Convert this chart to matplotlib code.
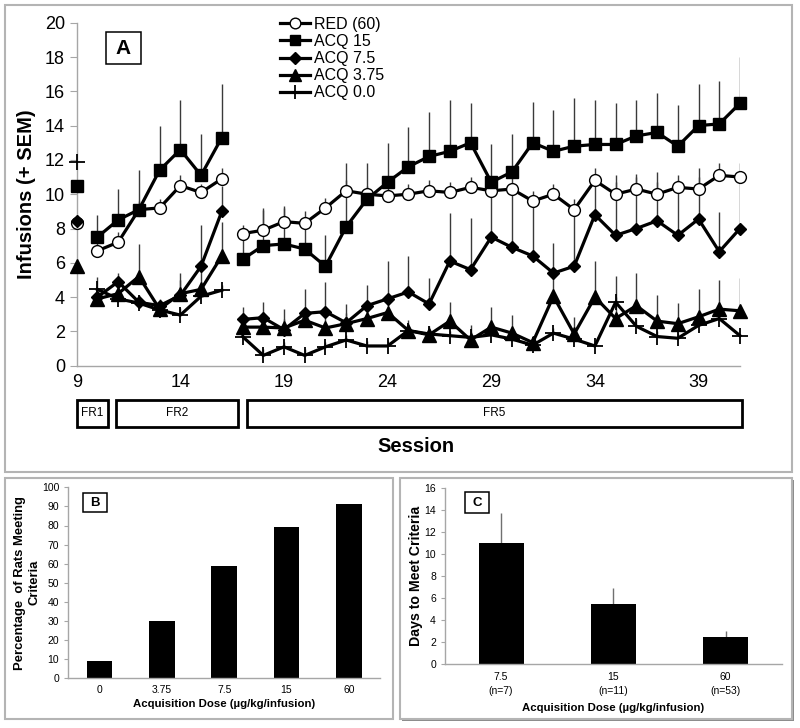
"""
Infusions across sessions (A), percentage of rats meeting criteria (B)
and days to meet criteria (C) by acquisition dose.
"""

import matplotlib
matplotlib.use('Agg')
import matplotlib.pyplot as plt
import matplotlib.transforms as mtransforms
from matplotlib.patches import Rectangle

plt.rcParams['font.family'] = ['Liberation Sans', 'DejaVu Sans']

FIG_W, FIG_H = 800, 728
AXIS_GREY = '#a6a6a6'
BOX_GREY = '#b4b4b4'

# ---- panel A: infusions per session -------------------------------------
sessions = list(range(9, 42))
session_ticks = [9, 14, 19, 24, 29, 34, 39]

red_60 = [8.3, 6.7, 7.2, 9.1, 9.2, 10.5, 10.1, 10.9,
          7.7, 7.9, 8.4, 8.3, 9.2, 10.2, 10.0, 9.9,
          10.0, 10.2, 10.1, 10.4, 10.2, 10.3, 9.6, 10.0,
          9.1, 10.8, 10.0, 10.3, 10.0, 10.4, 10.3, 11.1, 11.0]
red_60_sem = [0, 0.5, 0.6, 0.5, 0.5, 0.6, 0.5, 0.6,
              0.5, 1.3, 0.9, 0.7, 0.6, 0.6, 0.5, 0.5,
              0.6, 0.6, 0.6, 0.6, 0.7, 0.7, 0.6, 0.6,
              0.6, 0.7, 0.7, 0.7, 0.7, 0.7, 0.7, 0.7, 0.8]

acq_15 = [10.5, 7.5, 8.5, 9.1, 11.4, 12.6, 11.1, 13.3,
          6.2, 7.0, 7.1, 6.8, 5.8, 8.1, 9.7, 10.7,
          11.6, 12.2, 12.5, 13.0, 10.7, 11.3, 13.0, 12.5,
          12.8, 12.9, 12.9, 13.4, 13.6, 12.8, 14.0, 14.1, 15.3]
acq_15_sem = [0, 1.3, 1.8, 2.3, 2.6, 2.9, 2.4, 3.1,
              1.5, 2.1, 2.1, 1.8, 1.8, 3.7, 2.1, 2.3,
              2.3, 2.6, 3.0, 2.3, 2.2, 2.2, 2.4, 2.4,
              2.8, 2.6, 2.4, 2.1, 2.3, 2.4, 2.4, 2.5, 2.7]

acq_7_5 = [8.45, 4.0, 4.9, 3.7, 3.5, 4.1, 5.8, 9.0,
           2.7, 2.8, 2.1, 3.05, 3.15, 2.5, 3.5, 3.9,
           4.3, 3.6, 6.1, 5.6, 7.5, 6.9, 6.4, 5.4,
           5.8, 8.8, 7.6, 8.0, 8.45, 7.6, 8.55, 6.65, 8.0]
acq_7_5_sem = [0, 0.5, 0.5, 0.4, 0.4, 1.3, 2.4, 1.5,
               0.7, 0.9, 1.2, 1.4, 1.75, 1.1, 1.2, 2.2,
               2.1, 1.5, 2.8, 3.0, 3.25, 3.5, 3.2, 1.75,
               3.2, 2.0, 3.5, 3.2, 2.85, 3.2, 3.0, 2.3, 2.7]

acq_3_75 = [5.8, 3.9, 4.2, 5.2, 3.3, 4.2, 4.45, 6.4,
            2.25, 2.25, 2.2, 2.65, 2.2, 2.45, 2.75, 3.1,
            2.05, 1.8, 2.6, 1.5, 2.25, 1.9, 1.35, 4.05,
            1.85, 4.0, 2.75, 3.5, 2.6, 2.45, 2.85, 3.3, 3.2]
acq_3_75_sem = [0, 0.5, 0.6, 1.9, 0.3, 0.8, 1.2, 2.0,
                0.5, 0.6, 0.5, 0.8, 0.6, 0.6, 0.6, 0.6,
                0.6, 0.5, 1.1, 0.9, 1.2, 1.05, 0.4, 1.4,
                1.0, 2.1, 2.5, 1.9, 1.5, 1.2, 1.6, 1.7, 1.9]

acq_0 = [11.9, 4.45, 3.9, 3.65, 3.25, 2.95, 4.05, 4.4,
         1.7, 0.6, 1.1, 0.6, 1.1, 1.5, 1.15, 1.15,
         2.05, 1.85, 1.75, 1.65, 1.8, 1.55, 1.2, 1.9,
         1.55, 1.15, 3.7, 2.3, 1.7, 1.6, 2.35, 2.75, 1.75]
acq_0_sem = [0, 0.7, 0.4, 0.3, 0.3, 0.4, 0.4, 0.3,
             0.3, 0.4, 0.3, 0.4, 0.3, 0.3, 0.3, 0.3,
             0.3, 0.3, 0.3, 0.3, 0.3, 0.3, 0.3, 0.3,
             0.3, 0.3, 0.3, 0.4, 0.3, 0.3, 0.3, 0.3, 0.3]

# sessions are drawn as three unconnected runs
segments = [(0, 1), (1, 8), (8, 33)]

# schedule boxes under panel A: (label, first session, last session)
schedules = [('FR1', 9.0, 10.5), ('FR2', 10.9, 16.8), ('FR5', 17.2, 41.1)]

# ---- panel B: percentage of rats meeting criteria -------------------------
dose_b = ['0', '3.75', '7.5', '15', '60']
pct_meeting = [9, 30, 59, 79, 91]

# ---- panel C: days to meet criteria ---------------------------------------
dose_c = ['7.5', '15', '60']
n_rats = [7, 11, 53]
days_to_criteria = [11.0, 5.45, 2.5]
days_sem = [2.75, 1.5, 0.55]


def fig_rect(fig, left, top, right, bottom, **kwargs):
    """Add a rectangle to the figure given pixel edges (origin top-left)."""
    rect = Rectangle((left / FIG_W, 1 - bottom / FIG_H),
                     (right - left) / FIG_W, (bottom - top) / FIG_H,
                     transform=fig.transFigure, **kwargs)
    fig.add_artist(rect)
    return rect


def letter_box(fig, letter, left, top, right, bottom, size):
    """Boxed panel letter."""
    fig_rect(fig, left, top, right, bottom, facecolor='white',
             edgecolor='black', linewidth=1.1, zorder=5)
    fig.text((left + right) / 2 / FIG_W, 1 - (top + bottom) / 2 / FIG_H,
             letter, ha='center', va='center', fontsize=size,
             fontweight='bold', zorder=6)


def style_axes(ax, tick_size):
    ax.patch.set_alpha(0)
    ax.spines['top'].set_visible(False)
    ax.spines['right'].set_visible(False)
    for side in ('left', 'bottom'):
        ax.spines[side].set_color(AXIS_GREY)
        ax.spines[side].set_linewidth(1.0)
    ax.tick_params(axis='y', direction='out', length=4, color=AXIS_GREY,
                   labelsize=tick_size)
    ax.tick_params(axis='x', length=0, labelsize=tick_size)


fig = plt.figure(figsize=(FIG_W / 100, FIG_H / 100), dpi=100)

# panel frames, kept underneath the axes
fig_rect(fig, 5, 5, 792, 472, fill=False, edgecolor=BOX_GREY, linewidth=1.5,
         zorder=-2)
fig_rect(fig, 5, 478, 393, 719, fill=False, edgecolor=BOX_GREY,
         linewidth=1.5, zorder=-2)
fig_rect(fig, 402, 480, 794, 721, facecolor='#8c8c8c', edgecolor='none',
         zorder=-3)
fig_rect(fig, 400, 478, 792, 719, facecolor='white', edgecolor=BOX_GREY,
         linewidth=1.5, zorder=-2)

# ---- panel A ----
ax_a = fig.add_axes([76.7 / FIG_W, 1 - 365.7 / FIG_H,
                     663.3 / FIG_W, 343 / FIG_H])
style_axes(ax_a, 13)
ax_a.set_xlim(9, 41)
ax_a.set_ylim(0, 20)
ax_a.set_yticks(range(0, 21, 2))
ax_a.set_xticks(session_ticks)
ax_a.tick_params(axis='y', length=5)
ax_a.tick_params(axis='x', pad=6)
ax_a.set_ylabel('Infusions (+ SEM)', fontsize=14.5, fontweight='bold',
                labelpad=6)

series = [
    ('RED (60)', red_60, red_60_sem,
     dict(marker='o', ms=8.5, mfc='white', mec='black', mew=1.0)),
    ('ACQ 15', acq_15, acq_15_sem,
     dict(marker='s', ms=8.5, mfc='black', mec='black')),
    ('ACQ 7.5', acq_7_5, acq_7_5_sem,
     dict(marker='D', ms=6.5, mfc='black', mec='black')),
    ('ACQ 3.75', acq_3_75, acq_3_75_sem,
     dict(marker='^', ms=9.5, mfc='black', mec='black')),
    ('ACQ 0.0', acq_0, acq_0_sem,
     dict(marker='+', ms=11, mec='black', mew=1.3)),
]

handles = []
for label, values, sem, style in series:
    tops = [v + s for v, s in zip(values, sem)]
    ax_a.vlines(sessions, values, tops, color='#3a3a3a', linewidth=1.0,
                zorder=2)
    for start, stop in segments:
        line, = ax_a.plot(sessions[start:stop], values[start:stop],
                          color='black', linewidth=2.3, zorder=3,
                          clip_on=False, **style)
    line.set_label(label)
    handles.append(line)

ax_a.legend(handles=handles, loc='upper left',
            bbox_to_anchor=(280 / FIG_W, 1 - 17 / FIG_H),
            bbox_transform=fig.transFigure, frameon=False, fontsize=11.5,
            handlelength=1.9, handletextpad=0.2, labelspacing=0.13,
            borderaxespad=0, borderpad=0, markerscale=0.9)

letter_box(fig, 'A', 106, 32, 141, 64, 15)

# schedule boxes under the session axis
blend = mtransforms.blended_transform_factory(ax_a.transData, fig.transFigure)
box_bottom, box_top = 1 - 427 / FIG_H, 1 - 400 / FIG_H
for name, first, last in schedules:
    rect = Rectangle((first, box_bottom), last - first, box_top - box_bottom,
                     transform=blend, fill=False, edgecolor='black',
                     linewidth=2.0, clip_on=False)
    fig.add_artist(rect)
    fig.text((first + last) / 2, (box_bottom + box_top) / 2, name,
             transform=blend, ha='center', va='center', fontsize=8.5)

fig.text(416 / FIG_W, 1 - 447 / FIG_H, 'Session', ha='center',
         va='center', fontsize=14.5, fontweight='bold')

# ---- panel B ----
ax_b = fig.add_axes([68.3 / FIG_W, 1 - 678.3 / FIG_H,
                     311.7 / FIG_W, 191 / FIG_H])
style_axes(ax_b, 7.5)
ax_b.bar(range(len(dose_b)), pct_meeting, width=0.41, color='black')
ax_b.set_xlim(-0.5, len(dose_b) - 0.5)
ax_b.set_ylim(0, 100)
ax_b.set_yticks(range(0, 101, 10))
ax_b.set_xticks(range(len(dose_b)))
ax_b.set_xticklabels(dose_b)
ax_b.tick_params(axis='x', pad=5)
ax_b.tick_params(axis='y', length=3)
ax_b.set_xlabel('Acquisition Dose (\u00b5g/kg/infusion)', fontsize=8.2,
                fontweight='bold', labelpad=3)
ax_b.set_ylabel('Percentage  of Rats Meeting\nCriteria', fontsize=9.4,
                fontweight='bold', labelpad=1, linespacing=1.3)
letter_box(fig, 'B', 83, 493, 107, 512, 9.5)

# ---- panel C ----
ax_c = fig.add_axes([445 / FIG_W, 1 - 664 / FIG_H,
                     336.7 / FIG_W, 175.7 / FIG_H])
style_axes(ax_c, 7.5)
positions = range(len(dose_c))
ax_c.bar(positions, days_to_criteria, width=0.4, color='black', zorder=2)
ax_c.vlines(positions, days_to_criteria,
            [d + s for d, s in zip(days_to_criteria, days_sem)],
            color='#707070', linewidth=1.0, zorder=1)
ax_c.set_xlim(-0.5, len(dose_c) - 0.5)
ax_c.set_ylim(0, 16)
ax_c.set_yticks(range(0, 17, 2))
ax_c.set_xticks(list(positions))
ax_c.set_xticklabels([f'{d}\n(n={n})' for d, n in zip(dose_c, n_rats)],
                     linespacing=1.5)
ax_c.tick_params(axis='x', pad=6)
ax_c.tick_params(axis='y', length=3)
ax_c.set_xlabel('Acquisition Dose (\u00b5g/kg/infusion)', fontsize=8.2,
                fontweight='bold', labelpad=5)
ax_c.set_ylabel('Days to Meet Criteria', fontsize=10.2, fontweight='bold',
                labelpad=1)
letter_box(fig, 'C', 465, 492, 489, 513, 9.5)

fig.savefig('out.png', dpi=100)
